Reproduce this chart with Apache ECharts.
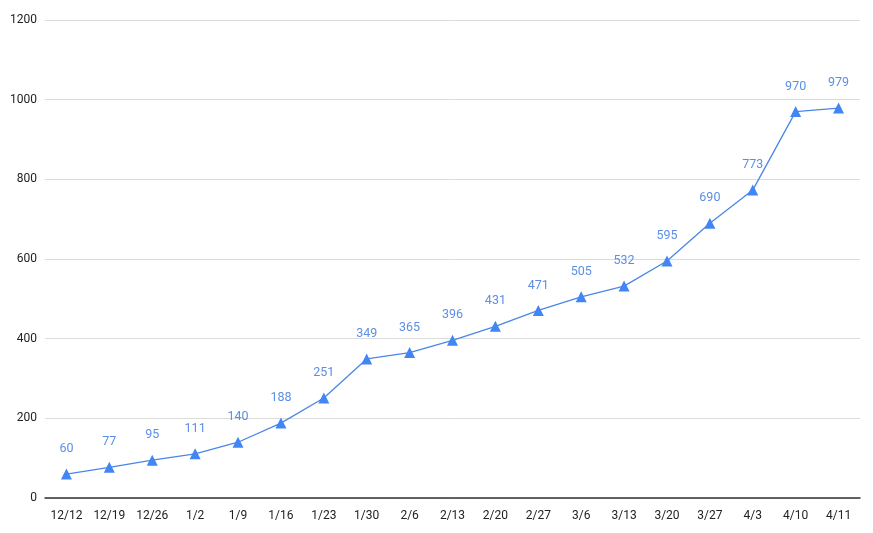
<!DOCTYPE html>
<html><head><meta charset="utf-8">
<script src="https://cdn.jsdelivr.net/npm/echarts@6/dist/echarts.min.js"></script>
<style>html,body{margin:0;padding:0;background:#fff}#c{width:873px;height:533px}</style>
</head><body><div id="c"></div>
<script>
const categories = ['12/12','12/19','12/26','1/2','1/9','1/16','1/23','1/30','2/6','2/13','2/20','2/27','3/6','3/13','3/20','3/27','4/3','4/10','4/11'];
const values = [60,77,95,111,140,188,251,349,365,396,431,471,505,532,595,690,773,970,979];
const chart = echarts.init(document.getElementById('c'));
chart.setOption({
  animation:false,
  grid:{left:45,right:13,top:20,bottom:35},
  xAxis:{type:'category',data:categories,boundaryGap:true,
    axisLine:{lineStyle:{color:'#333',width:1.5}},axisTick:{show:false},
    axisLabel:{color:'#222',fontFamily:'Roboto',fontSize:12,margin:12,interval:0}},
  yAxis:{type:'value',min:0,max:1200,interval:200,
    axisLine:{show:false},axisTick:{show:false},
    splitLine:{lineStyle:{color:'#dcdcdc'}},
    axisLabel:{color:'#222',fontFamily:'Roboto',fontSize:12,margin:8,formatter:v=>String(v)}},
  series:[{type:'line',data:values,symbol:'triangle',symbolSize:11,
    lineStyle:{color:'#4a86e8',width:1.3},
    itemStyle:{color:'#4285f4'},
    label:{show:true,position:'top',distance:13,color:'#5b8fe6',fontFamily:'Roboto',fontSize:12.5}}]
});
</script></body></html>
